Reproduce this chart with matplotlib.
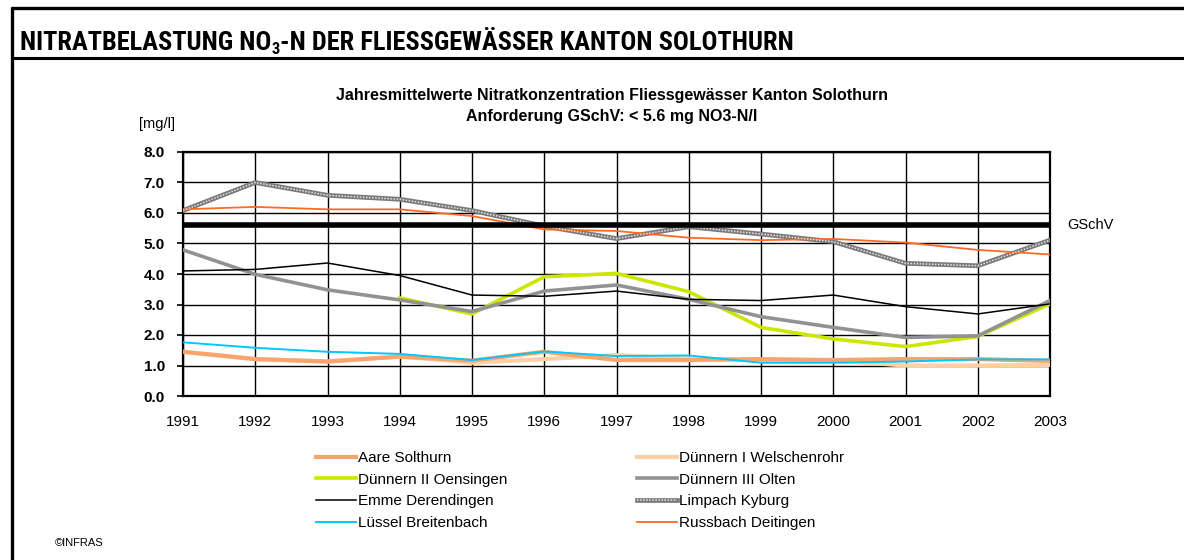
import matplotlib
matplotlib.use("Agg")
import matplotlib.pyplot as plt
from matplotlib.lines import Line2D
from matplotlib.legend_handler import HandlerTuple
from matplotlib import font_manager
import numpy as np

years = [1991, 1992, 1993, 1994, 1995, 1996, 1997, 1998, 1999, 2000, 2001, 2002, 2003]

aare_solothurn = [1.45, 1.21, 1.13, 1.29, 1.16, 1.45, 1.18, 1.18, 1.21, 1.18, 1.21, 1.21, 1.15]
duennern_1 = [1.45, 1.21, 1.13, 1.30, 1.09, 1.21, 1.34, 1.23, 1.18, 1.16, 1.00, 1.00, 1.02]
duennern_2 = [np.nan, np.nan, np.nan, 3.22, 2.69, 3.91, 4.02, 3.42, 2.25, 1.87, 1.62, 1.95, 3.02]
duennern_3 = [4.79, 3.99, 3.48, 3.15, 2.77, 3.44, 3.64, 3.17, 2.60, 2.25, 1.92, 1.97, 3.13]
emme = [4.10, 4.15, 4.36, 3.95, 3.31, 3.27, 3.44, 3.17, 3.13, 3.31, 2.93, 2.69, 3.02]
limpach = [6.08, 7.00, 6.58, 6.45, 6.08, 5.57, 5.16, 5.55, 5.31, 5.06, 4.35, 4.27, 5.11]
luessel = [1.76, 1.58, 1.45, 1.38, 1.18, 1.46, 1.31, 1.33, 1.09, 1.09, 1.13, 1.20, 1.20]
russbach = [6.12, 6.20, 6.12, 6.12, 5.90, 5.46, 5.41, 5.19, 5.11, 5.15, 5.03, 4.79, 4.64]

limit_gschv = 5.6
y_ticks = [0, 1, 2, 3, 4, 5, 6, 7, 8]

labels = ["Aare Solthurn", "Dünnern I Welschenrohr", "Dünnern II Oensingen",
          "Dünnern III Olten", "Emme Derendingen", "Limpach Kyburg",
          "Lüssel Breitenbach", "Russbach Deitingen"]

installed = {f.name for f in font_manager.fontManager.ttflist}
SANS = "Liberation Sans" if "Liberation Sans" in installed else "DejaVu Sans"
narrow_candidates = ["Liberation Sans Narrow", "Arial Narrow", "Roboto Condensed",
                     "Open Sans Condensed", "Noto Sans Condensed"]
NARROW = next((n for n in narrow_candidates if n in installed), None)

plt.rcParams["font.family"] = [SANS, "DejaVu Sans"]

W, H = 1184, 560
fig = plt.figure(figsize=(W / 100, H / 100), dpi=100)


def fx(px):
    return px / W


def fy(py):
    return 1 - py / H


# page frame
fig.add_artist(Line2D([fx(12), fx(12)], [fy(7), 0], color="black", lw=2.4,
                      transform=fig.transFigure, solid_capstyle="butt"))
fig.add_artist(Line2D([fx(11), 1], [fy(8), fy(8)], color="black", lw=2.4,
                      transform=fig.transFigure, solid_capstyle="butt"))
fig.add_artist(Line2D([fx(11), 1], [fy(58), fy(58)], color="black", lw=2.2,
                      transform=fig.transFigure, solid_capstyle="butt"))

# header title with subscript, sized to its full line width
head_family = [NARROW, SANS] if NARROW else [SANS]
renderer = fig.canvas.get_renderer()
head_parts = ["NITRATBELASTUNG NO", "3", "-N DER FLIESSGEWÄSSER KANTON SOLOTHURN"]


def draw_header(size):
    texts = []
    x = fx(20)
    for i, part in enumerate(head_parts):
        sub = i == 1
        t = fig.text(x, fy(54 if sub else 50), part, ha="left", va="baseline",
                     family=head_family, weight="bold",
                     size=size * (0.62 if sub else 1.0))
        x = t.get_window_extent(renderer).x1 / W
        texts.append(t)
    return texts, x * W - 20


parts, width = draw_header(16)
target = 818
size = min(16 * target / width, 19.0)
for t in parts:
    t.remove()
draw_header(size)

# plot area
ax = fig.add_axes([fx(183), fy(396), fx(1050) - fx(183), fy(152) - fy(396)])
ax.set_xlim(years[0], years[-1])
ax.set_ylim(0, 8)
ax.set_xticks(years)
ax.set_xticklabels([str(y) for y in years], fontsize=11)
ax.set_yticks(y_ticks)
ax.set_yticklabels([f"{v:.1f}" for v in y_ticks], fontsize=11, fontweight="bold")
ax.tick_params(axis="y", length=4, width=1.2, pad=9, direction="out")
ax.tick_params(axis="x", length=0, pad=13.5)
ax.grid(True, color="black", lw=1.0)
ax.set_axisbelow(True)
for s in ax.spines.values():
    s.set_color("black")
    s.set_linewidth(1.6)

h_aare, = ax.plot(years, aare_solothurn, color="#F9A46C", lw=3.0, label=labels[0], zorder=3)
h_d1, = ax.plot(years, duennern_1, color="#FFCFA6", lw=3.0, label=labels[1], zorder=2.9)
h_d2, = ax.plot(years, duennern_2, color="#CCE600", lw=2.6, label=labels[2], zorder=3)
h_d3, = ax.plot(years, duennern_3, color="#929292", lw=2.6, label=labels[3], zorder=3)
h_em, = ax.plot(years, emme, color="black", lw=1.1, label=labels[4], zorder=3)
h_lb, = ax.plot(years, limpach, color="#7A7A7A", lw=3.4, label=labels[5], zorder=3)
h_lt, = ax.plot(years, limpach, color="#E2E2E2", lw=1.1, dashes=(1, 1), zorder=3.1)
h_lu, = ax.plot(years, luessel, color="#00C8FF", lw=1.4, label=labels[6], zorder=3)
h_ru, = ax.plot(years, russbach, color="#FF6A1F", lw=1.3, label=labels[7], zorder=3)

ax.axhline(limit_gschv, color="black", lw=4.0, zorder=4)
ax.text(1.02, limit_gschv, "GSchV", transform=ax.get_yaxis_transform(),
        ha="left", va="center", fontsize=10.5)

# chart titles
fig.text(fx(612), fy(95), "Jahresmittelwerte Nitratkonzentration Fliessgewässer Kanton Solothurn",
         ha="center", va="center", fontsize=11.5, fontweight="bold")
fig.text(fx(612), fy(117), "Anforderung GSchV: < 5.6 mg NO3-N/l",
         ha="center", va="center", fontsize=11.5, fontweight="bold")
fig.text(fx(139), fy(124), "[mg/l]", ha="left", va="center", fontsize=10.5)

# legend in two columns
leg_kw = dict(frameon=False, fontsize=11, handlelength=2.6, handletextpad=0.15,
              labelspacing=0.5, borderpad=0, borderaxespad=0, loc="upper left")
fig.legend([h_aare, h_d2, h_em, h_lu],
           [labels[0], labels[2], labels[4], labels[6]],
           bbox_to_anchor=(fx(316), fy(451)), **leg_kw)
fig.legend([h_d1, h_d3, (h_lb, h_lt), h_ru],
           [labels[1], labels[3], labels[5], labels[7]],
           bbox_to_anchor=(fx(637), fy(451)),
           handler_map={tuple: HandlerTuple(ndivide=1)}, **leg_kw)

fig.text(fx(55), fy(543), "©INFRAS", ha="left", va="center", fontsize=8)

fig.savefig("out.png", dpi=100)
